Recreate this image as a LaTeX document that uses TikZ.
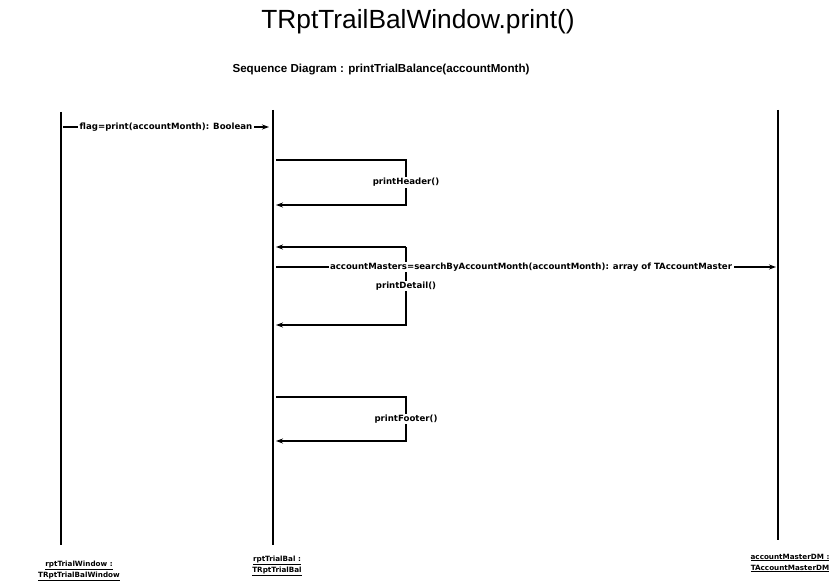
\documentclass[tikz,border=0pt]{standalone}
\usepackage{fontspec}
\setmainfont{Liberation Sans}
\newfontfamily\lblfont{DejaVu Sans}
\usetikzlibrary{arrows.meta}
\begin{document}
\begin{tikzpicture}[x=1pt,y=-1pt,
  life/.style={line width=1.8pt},
  msg/.style={line width=1.2pt,-{Stealth[length=7pt,width=5pt]}},
  lbl/.style={font=\lblfont\bfseries\fontsize{8.6}{9}\selectfont, fill=white, inner xsep=1.5pt, inner ysep=1pt},
  objlbl/.style={font=\lblfont\bfseries\fontsize{7.2}{11}\selectfont, align=center, inner sep=0pt}]
\useasboundingbox (0,0) rectangle (830,583);
\node[font=\fontsize{26.3}{30}\selectfont] (title) at (418,22) {TRptTrailBalWindow.print()};
\node[font=\bfseries\fontsize{11.6}{13}\selectfont] (sub) at (381,70) {Sequence Diagram : printTrialBalance(accountMonth)};
% lifelines
\coordinate (Atop) at (61,112); \coordinate (Abot) at (61,545);
\coordinate (Btop) at (273,110); \coordinate (Bbot) at (273,545);
\coordinate (Ctop) at (778,110); \coordinate (Cbot) at (778,540);
\draw[life] (Atop) -- (Abot);
\draw[life] (Btop) -- (Bbot);
\draw[life] (Ctop) -- (Cbot);
\node[objlbl] (A) at (79,571) {\underline{rptTrialWindow :}\\\underline{TRptTrialBalWindow}};
\node[objlbl] (B) at (277,566) {\underline{rptTrialBal :}\\\underline{TRptTrialBal}};
\node[objlbl] (C) at (790,563) {\underline{accountMasterDM :}\\\underline{TAccountMasterDM}};
% flag message
\coordinate (f1) at (63,127); \coordinate (f2) at (269,127);
\draw[msg] (f1) -- node[lbl] (flag) {flag=print(accountMonth): Boolean} (f2);
% printHeader
\coordinate (h1) at (276,160); \coordinate (h2) at (406,160);
\coordinate (h3) at (406,205); \coordinate (h4) at (276,205);
\draw[msg] (h1) -- (h2) -- node[lbl] (ph) {printHeader()} (h3) -- (h4);
% printDetail
\coordinate (d1) at (276,247); \coordinate (d2) at (406,247);
\coordinate (d3) at (406,325); \coordinate (d4) at (276,325);
\draw[msg] (d2) -- (d1);
\draw[msg] (d2) -- node[lbl] (pd) {printDetail()} (d3) -- (d4);
% search message
\coordinate (s1) at (276,267); \coordinate (s2) at (776,267);
\draw[msg] (s1) -- node[lbl, pos=0.51] (srch) {accountMasters=searchByAccountMonth(accountMonth): array of TAccountMaster} (s2);
% printFooter
\coordinate (p1) at (276,397); \coordinate (p2) at (406,397);
\coordinate (p3) at (406,441); \coordinate (p4) at (276,441);
\draw[msg] (p1) -- (p2) -- node[lbl] (pf) {printFooter()} (p3) -- (p4);
\end{tikzpicture}
\end{document}
